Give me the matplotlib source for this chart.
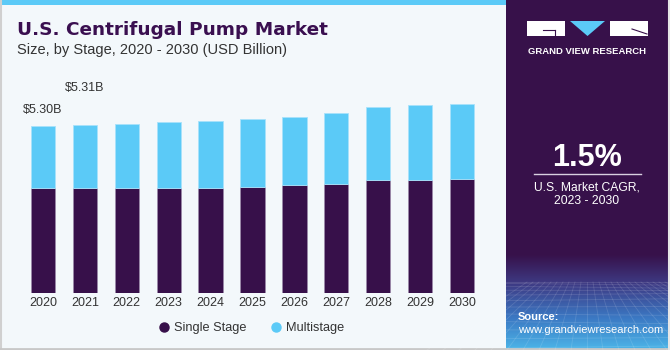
import numpy as np
import matplotlib
matplotlib.use("Agg")
import matplotlib.pyplot as plt
from matplotlib.patches import Rectangle, Polygon
from matplotlib.lines import Line2D

years = ["2020", "2021", "2022", "2023", "2024", "2025", "2026", "2027", "2028", "2029", "2030"]
single_stage = [3.32, 3.32, 3.32, 3.32, 3.32, 3.35, 3.42, 3.46, 3.57, 3.57, 3.61]
multistage = [1.98, 1.99, 2.03, 2.09, 2.13, 2.15, 2.17, 2.23, 2.32, 2.38, 2.39]
value_labels = {0: "$5.30B", 1: "$5.31B"}
cagr = "1.5%"

dark = "#37104a"
blue = "#5bcaf7"
bg = "#f3f8fb"
txt = "#333333"

fig = plt.figure(figsize=(6.7, 3.5), dpi=100, facecolor=bg)

# decoration layer in pixel coordinates
deco = fig.add_axes([0, 0, 1, 1], zorder=0)
deco.set_xlim(0, 670)
deco.set_ylim(350, 0)
deco.axis("off")

# top stripe and borders
deco.add_patch(Rectangle((0, 0), 506, 5, color=blue, lw=0))
deco.plot([0.5, 0.5], [0, 350], color="#d0d0d0", lw=1.5)
deco.plot([0, 670], [348.5, 348.5], color="#c8c8c8", lw=2)

# right panel gradient
ys = np.linspace(0, 350, 350)
stops_y = [0, 255, 285, 318, 350]
stops_c = np.array([[0x37, 0x11, 0x4a], [0x37, 0x11, 0x4a], [0x3e, 0x3c, 0x86],
                    [0x3b, 0x78, 0xc3], [0x4c, 0xb5, 0xe8]]) / 255.0
grad = np.stack([np.interp(ys, stops_y, stops_c[:, k]) for k in range(3)], axis=-1)
deco.imshow(grad[:, None, :], extent=(506, 668, 350, 0), aspect="auto", zorder=1)
deco.plot([668.5, 668.5], [0, 350], color="#e6e6e6", lw=1.5, zorder=2)

# faint mesh texture at the bottom of the panel
for k in range(12):
    yy = 282 + (k / 11) ** 1.6 * 66
    deco.plot([506, 668], [yy, yy + 2 * np.sin(k)], color="white", alpha=0.13, lw=0.6, zorder=2)
for k in range(-10, 22):
    x0 = 587 + k * 6
    deco.plot([x0, 587 + k * 16], [282, 350], color="white", alpha=0.13, lw=0.6, zorder=2)

# logo
deco.add_patch(Rectangle((527, 21), 38, 15, color="white", lw=0, zorder=3))
deco.add_patch(Rectangle((610, 21), 38, 15, color="white", lw=0, zorder=3))
deco.add_patch(Polygon([[570, 21], [605, 21], [587.5, 36]], closed=True, color=blue, lw=0, zorder=3))
deco.plot([543, 555], [30, 30], color=dark, lw=0.8, zorder=4)
deco.plot([555, 555], [30, 35], color=dark, lw=0.8, zorder=4)
deco.plot([632, 647], [29, 34], color=dark, lw=0.8, zorder=4)
deco.text(587, 51.5, "GRAND VIEW RESEARCH", color="white", fontsize=6.8, fontweight="bold",
          family="Liberation Sans", ha="center", va="center", zorder=4)

# CAGR
deco.text(587, 166, cagr, color="white", fontsize=22, fontweight="bold",
          family="Liberation Sans", ha="center", va="baseline", zorder=4)
deco.plot([534, 641], [173.5, 173.5], color="#d8d0e0", lw=1, zorder=4)
deco.text(587, 190.5, "U.S. Market CAGR,", color="white", fontsize=8.7,
          family="Liberation Sans", ha="center", va="baseline", zorder=4)
deco.text(587, 204.5, "2023 - 2030", color="white", fontsize=8.7,
          family="Liberation Sans", ha="center", va="baseline", zorder=4)

# source
deco.text(518, 320, "Source:", color="white", fontsize=8, fontweight="bold",
          family="Liberation Sans", ha="left", va="baseline", zorder=4)
deco.text(518, 333, "www.grandviewresearch.com", color="white", fontsize=8,
          family="Liberation Sans", ha="left", va="baseline", zorder=4)

# titles
deco.text(17, 35, "U.S. Centrifugal Pump Market", color="#3a0f50", fontsize=13.3,
          fontweight="bold", family="DejaVu Sans", ha="left", va="baseline")
deco.text(17, 54, "Size, by Stage, 2020 - 2030 (USD Billion)", color=txt, fontsize=10.5,
          family="Liberation Sans", ha="left", va="baseline")

# bar chart
ax = fig.add_axes([22 / 670, 56.7 / 350, 461 / 670, 208.7 / 350], zorder=5)
ax.set_facecolor("none")
x = np.arange(len(years))
ax.bar(x, single_stage, width=0.58, color=dark, edgecolor="#9a88a8", linewidth=0.6)
ax.bar(x, multistage, width=0.58, bottom=single_stage, color=blue, edgecolor="#a8e2fb", linewidth=0.6)
ax.set_xlim(-0.5, len(years) - 0.5)
ax.set_ylim(0, 6.6)
ax.set_xticks(x)
ax.set_xticklabels(years, fontsize=9, color=txt, family="Liberation Sans")
ax.tick_params(axis="x", length=0, pad=3)
ax.set_yticks([])
for s in ax.spines.values():
    s.set_visible(False)

offsets = {0: 13, 1: 34}
for i, lab in value_labels.items():
    total = single_stage[i] + multistage[i]
    ax.annotate(lab, (x[i], total), xytext=(0, offsets[i]), textcoords="offset pixels",
                ha="center", va="baseline", fontsize=9, color=txt, family="Liberation Sans")

handles = [Line2D([], [], marker="o", ls="none", color=dark, markersize=6.5),
           Line2D([], [], marker="o", ls="none", color=blue, markersize=6.5)]
fig.legend(handles, ["Single Stage", "Multistage"], loc="center", ncol=2,
           bbox_to_anchor=(251 / 670, 1 - 328 / 350), frameon=False,
           prop={"family": "Liberation Sans", "size": 9.2}, labelcolor=txt,
           handletextpad=0.3, columnspacing=1.8, handlelength=1.0)

fig.savefig("out.png", dpi=100, facecolor=bg)
